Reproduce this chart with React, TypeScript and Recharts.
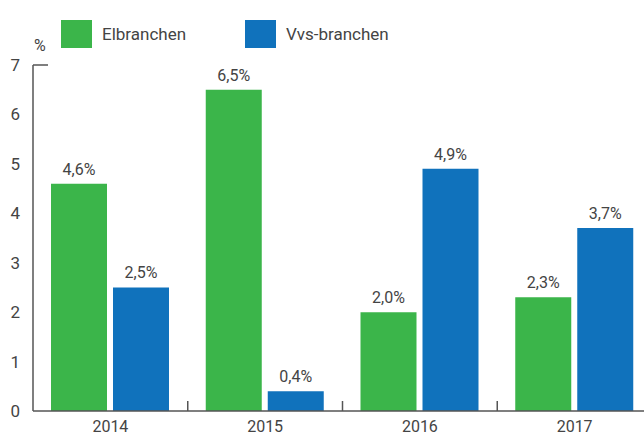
import React from 'react';
import { BarChart, Bar, XAxis, YAxis, LabelList } from 'recharts';

const years = ['2014', '2015', '2016', '2017'];
const elbranchen = [4.6, 6.5, 2.0, 2.3];
const vvsBranchen = [2.5, 0.4, 4.9, 3.7];
const yTicks = [0, 1, 2, 3, 4, 5, 6, 7];

const GREEN = '#3bb54a';
const BLUE = '#1072bc';
const TEXT = '#444';
const AXIS = '#555';
const FONT = 'Roboto, "Open Sans", sans-serif';

const data = years.map((year, i) => ({ year, el: elbranchen[i], vvs: vvsBranchen[i] }));

const fmt = (v: any) => `${Number(v).toFixed(1).replace('.', ',')}%`;

const W = 660;
const H = 432;
const LEFT = 33;
const RIGHT = 8;
const BAND = (W - LEFT - RIGHT) / years.length;

const YTick = (props: any) => {
  const { x, y, payload } = props;
  return (
    <g>
      <text x={x} y={y} dy={6} textAnchor="end" fill={TEXT} fontSize={17} fontFamily={FONT}>
        {payload.value}
      </text>
      {payload.value === 7 && <line x1={LEFT} x2={LEFT + 15} y1={y} y2={y} stroke={AXIS} strokeWidth={1.5} />}
    </g>
  );
};

const XTick = (props: any) => {
  const { x, y, payload, index } = props;
  return (
    <g>
      <text x={x} y={y + 13} textAnchor="middle" fill={TEXT} fontSize={16} fontFamily={FONT}>
        {payload.value}
      </text>
      {index < years.length - 1 && (
        <line x1={x + BAND / 2} x2={x + BAND / 2} y1={411} y2={401} stroke={AXIS} strokeWidth={1.5} />
      )}
    </g>
  );
};

const legendItems = [
  { label: 'Elbranchen', color: GREEN, left: 61 },
  { label: 'Vvs-branchen', color: BLUE, left: 245 },
];

export default function App() {
  return (
    <div style={{ position: 'absolute', left: 0, top: 0, width: W, height: H, fontFamily: FONT, background: '#fff' }}>
      {legendItems.map((it) => (
        <div key={it.label} style={{ position: 'absolute', left: it.left, top: 20, display: 'flex', alignItems: 'center' }}>
          <div style={{ width: 31, height: 28, background: it.color }} />
          <span style={{ marginLeft: 10, fontSize: 17, color: TEXT }}>{it.label}</span>
        </div>
      ))}
      <div style={{ position: 'absolute', left: 34, top: 36, fontSize: 16, color: TEXT }}>%</div>
      <BarChart
        width={W}
        height={H}
        data={data}
        margin={{ top: 65, right: RIGHT, left: 0, bottom: 0 }}
        barCategoryGap={18}
        barGap={6}
      >
        <XAxis
          dataKey="year"
          height={21}
          axisLine={{ stroke: AXIS, strokeWidth: 1.5 }}
          tickLine={false}
          tick={<XTick />}
          interval={0}
        />
        <YAxis
          width={LEFT}
          domain={[0, 7]}
          ticks={yTicks}
          axisLine={{ stroke: AXIS, strokeWidth: 1.5 }}
          tickLine={false}
          tickSize={0}
          tickMargin={13}
          tick={<YTick />}
          interval={0}
        />
        <Bar dataKey="el" fill={GREEN} isAnimationActive={false}>
          <LabelList dataKey="el" position="top" offset={9} formatter={fmt} fill={TEXT} fontSize={16} fontFamily={FONT} />
        </Bar>
        <Bar dataKey="vvs" fill={BLUE} isAnimationActive={false}>
          <LabelList dataKey="vvs" position="top" offset={9} formatter={fmt} fill={TEXT} fontSize={16} fontFamily={FONT} />
        </Bar>
      </BarChart>
    </div>
  );
}
